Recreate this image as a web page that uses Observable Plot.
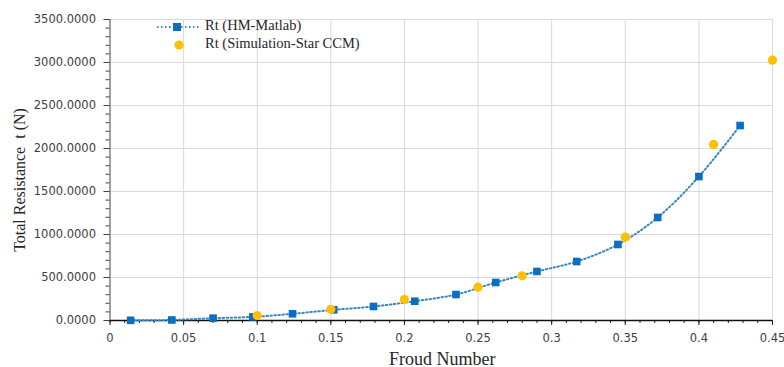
<!DOCTYPE html>
<html>
<head>
<meta charset="utf-8">
<script src="https://cdn.jsdelivr.net/npm/d3@7"></script>
<script src="https://cdn.jsdelivr.net/npm/@observablehq/plot@0.6"></script>
<style>
  html, body { margin: 0; padding: 0; background: #fff; }
  #wrap { position: relative; width: 784px; height: 367px; }
  .leg { position: absolute; font-family: "Liberation Serif", "Times New Roman", serif; font-size: 14.5px; color: #262626; white-space: nowrap; }
</style>
</head>
<body>
<div id="wrap"></div>
<script>
// Series 1: Rt (HM-Matlab)
const hmFroude = [0.014, 0.042, 0.070, 0.097, 0.124, 0.152, 0.179, 0.207, 0.235, 0.262, 0.290, 0.317, 0.345, 0.372, 0.400, 0.428];
const hmRt     = [2, 6, 27, 42, 78, 124, 163, 224, 302, 442, 570, 686, 884, 1198, 1674, 2267];
// Series 2: Rt (Simulation-Star CCM)
const ccmFroude = [0.10, 0.15, 0.20, 0.25, 0.28, 0.35, 0.41, 0.45];
const ccmRt     = [58, 131, 244, 387, 520, 969, 2047, 3027];
// Axis ticks
const xTicks = [0, 0.05, 0.1, 0.15, 0.2, 0.25, 0.3, 0.35, 0.4, 0.45];
const yTicks = [0, 500, 1000, 1500, 2000, 2500, 3000, 3500];
const xMinor = d3.range(0, 46).map(i => i / 100);
const yMinor = d3.range(0, 36).map(i => i * 100);
const seriesNames = ["Rt (HM-Matlab)", "Rt (Simulation-Star CCM)"];

const hm = hmFroude.map((x, i) => ({x, y: hmRt[i]}));
const ccm = ccmFroude.map((x, i) => ({x, y: ccmRt[i]}));

const blue = "#0A6FC0";
const lineBlue = "#3B86C4";
const gold = "#FFC000";
const grid = "#d9d9d9";
const tickFont = "DejaVu Sans, Verdana, sans-serif";
const serif = "Liberation Serif, Times New Roman, serif";

const chart = Plot.plot({
  width: 784,
  height: 367,
  marginLeft: 109.5,
  marginRight: 12,
  marginTop: 19,
  marginBottom: 47,
  style: { fontFamily: tickFont, fontSize: "11px", color: "#595959", background: "#fff" },
  x: { domain: [0, 0.45] },
  y: { domain: [0, 3500] },
  marks: [
    Plot.gridX(xTicks, { stroke: grid, strokeOpacity: 1, strokeWidth: 1 }),
    Plot.gridY(yTicks, { stroke: grid, strokeOpacity: 1, strokeWidth: 1 }),
    Plot.axisX({ ticks: xMinor, tickSize: 3, text: null, stroke: "#222", label: null }),
    Plot.axisX({ ticks: xTicks, tickSize: 5, tickPadding: 8, stroke: "#222",
      tickFormat: d => String(+d.toFixed(2)), fill: "#404040", fontSize: 11.5,
      label: null }),
    Plot.axisY({ ticks: yMinor, tickSize: 4, text: null, stroke: "#444", label: null }),
    Plot.axisY({ ticks: yTicks, tickSize: 6, tickPadding: 8, stroke: "#444",
      tickFormat: d3.format(".4f"), fill: "#404040", fontSize: 11.5, label: null }),
    Plot.ruleY([0], { stroke: "#111", strokeWidth: 1.3 }),
    Plot.ruleX([0], { stroke: "#555", strokeWidth: 1 }),
    Plot.line(hm, { x: "x", y: "y", curve: "catmull-rom", stroke: lineBlue,
      strokeWidth: 2, strokeDasharray: "1.5,2.5" }),
    Plot.dot(hm, { x: "x", y: "y", symbol: "square", r: 4.3, fill: blue, stroke: "none" }),
    Plot.dot(ccm, { x: "x", y: "y", symbol: "circle", r: 4.6, fill: gold, stroke: "none" }),
    Plot.text(["Froud Number"], { frameAnchor: "bottom", dy: 44, dx: 1, fontFamily: serif,
      fontSize: 18, fill: "#262626" }),
    Plot.text(["Total Resistance  t (N)"], { frameAnchor: "left", textAnchor: "middle",
      dx: -90, dy: 10, rotate: -90,
      fontFamily: serif, fontSize: 16, fill: "#262626" })
  ]
});

const wrap = document.getElementById("wrap");
wrap.appendChild(chart);

// Legend (inside plot area, top-left)
const legSvg = d3.select(wrap).append("svg")
  .attr("width", 60).attr("height", 40)
  .style("position", "absolute").style("left", "150px").style("top", "17px");
legSvg.append("line").attr("x1", 7).attr("x2", 49).attr("y1", 10).attr("y2", 10)
  .attr("stroke", lineBlue).attr("stroke-width", 2).attr("stroke-dasharray", "1.5,2.5");
legSvg.append("rect").attr("x", 23).attr("y", 6).attr("width", 8).attr("height", 8).attr("fill", blue);
legSvg.append("circle").attr("cx", 29).attr("cy", 28).attr("r", 4.6).attr("fill", gold);

seriesNames.forEach((name, i) => {
  const d = document.createElement("div");
  d.className = "leg";
  d.textContent = name;
  d.style.left = "205px";
  d.style.top = (17 + i * 18) + "px";
  wrap.appendChild(d);
});
</script>
</body>
</html>
